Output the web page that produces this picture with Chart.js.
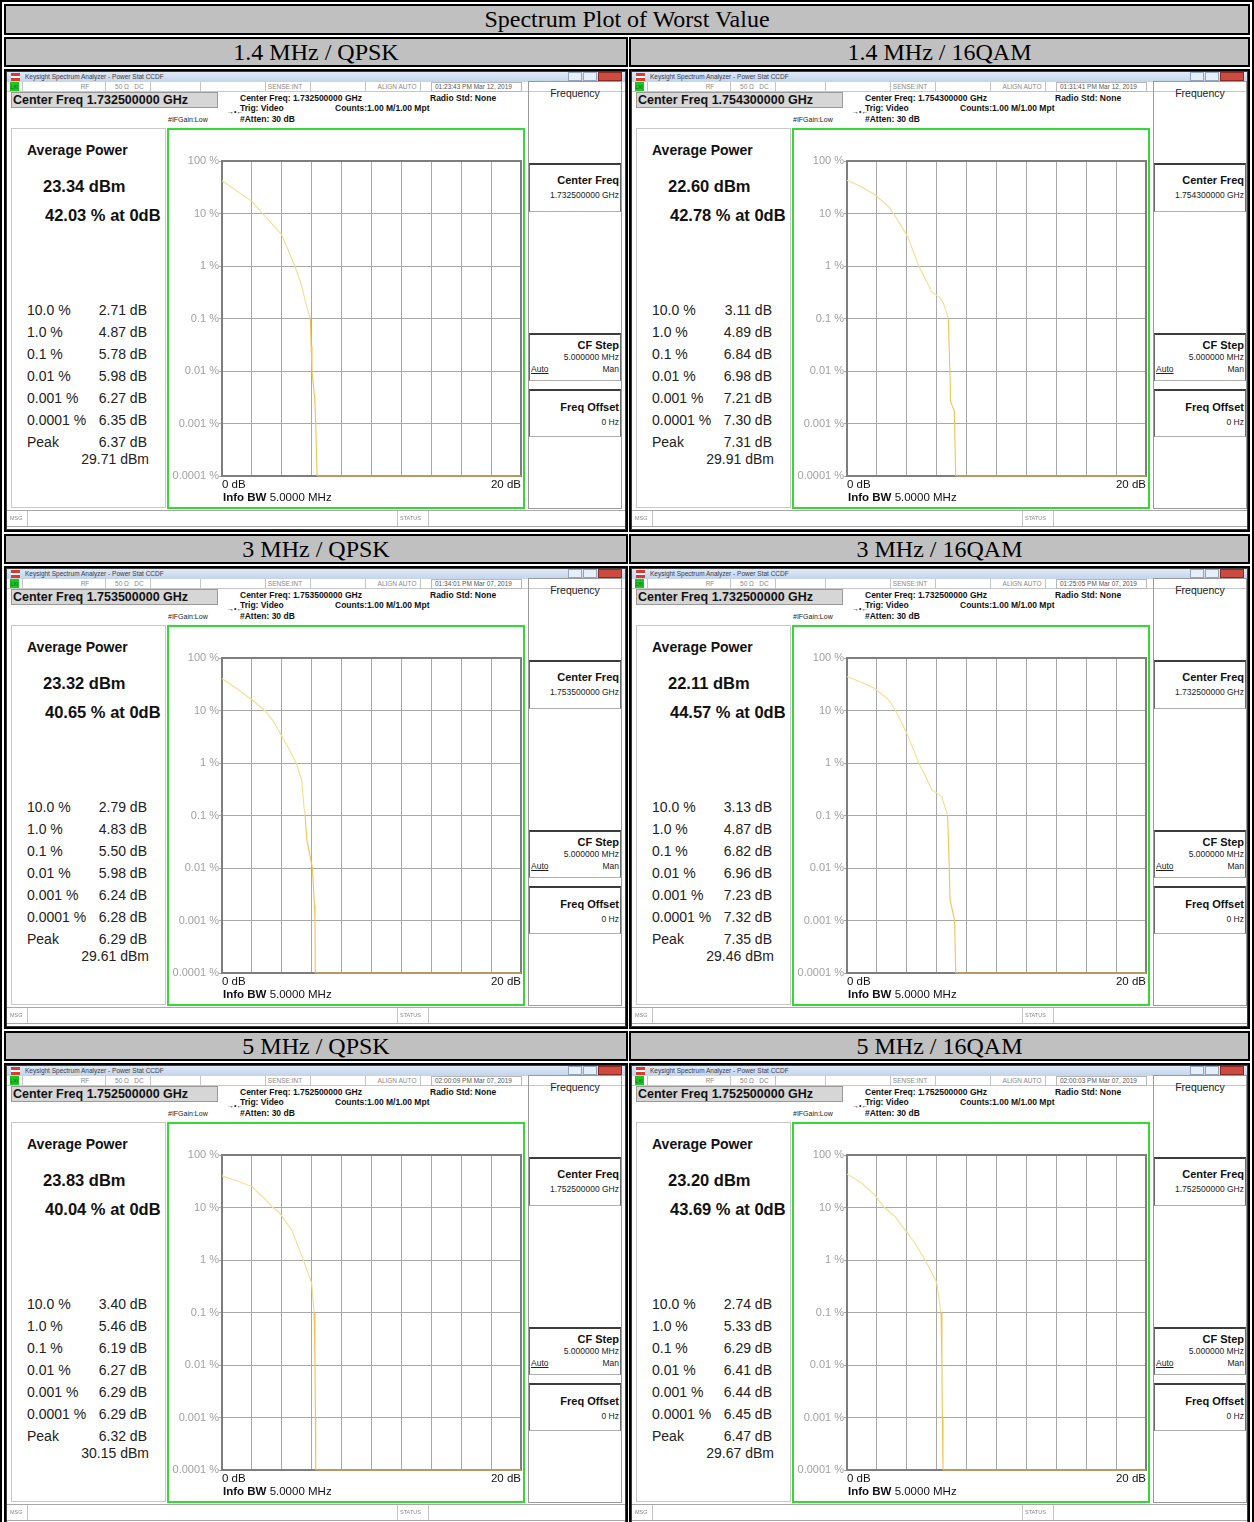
<!DOCTYPE html>
<html>
<head>
<meta charset="utf-8">
<script src="https://cdn.jsdelivr.net/npm/chart.js@4.4.1/dist/chart.umd.min.js"></script>
<style>
  body { margin: 0; width: 1254px; height: 1522px; overflow: hidden; background: #fff; font-family: 'Liberation Sans', Arial, sans-serif; }
  #page { position: relative; width: 1254px; height: 1522px; overflow: hidden; }
  b { font-weight: bold; }
</style>
</head>
<body>
<div id="page"></div>
<script>
// Table / panel texts
const pageTitle = 'Spectrum Plot of Worst Value';
const panelTitles = ['1.4 MHz / QPSK', '1.4 MHz / 16QAM', '3 MHz / QPSK', '3 MHz / 16QAM', '5 MHz / QPSK', '5 MHz / 16QAM'];
const centerFreqs = ['1.732500000', '1.754300000', '1.753500000', '1.732500000', '1.752500000', '1.752500000'];
const timeStamps = ['01:23:43 PM Mar 12, 2019', '01:31:41 PM Mar 12, 2019', '01:34:01 PM Mar 07, 2019',
                    '01:25:05 PM Mar 07, 2019', '02:00:09 PM Mar 07, 2019', '02:00:03 PM Mar 07, 2019'];
const avgPowerDbm = ['23.34', '22.60', '23.32', '22.11', '23.83', '23.20'];
const pctAt0dB = ['42.03', '42.78', '40.65', '44.57', '40.04', '43.69'];
const ccdfLevels = ['10.0 %', '1.0 %', '0.1 %', '0.01 %', '0.001 %', '0.0001 %', 'Peak'];
const ccdfDb = [
    ['2.71', '4.87', '5.78', '5.98', '6.27', '6.35', '6.37'],
    ['3.11', '4.89', '6.84', '6.98', '7.21', '7.30', '7.31'],
    ['2.79', '4.83', '5.50', '5.98', '6.24', '6.28', '6.29'],
    ['3.13', '4.87', '6.82', '6.96', '7.23', '7.32', '7.35'],
    ['3.40', '5.46', '6.19', '6.27', '6.29', '6.29', '6.32'],
    ['2.74', '5.33', '6.29', '6.41', '6.44', '6.45', '6.47']
];
const peakDbm = ['29.71', '29.91', '29.61', '29.46', '30.15', '29.67'];

// Axes
const yTickValues = [0.0001, 0.001, 0.01, 0.1, 1, 10, 100];
const yTickLabels = ['0.0001 %', '0.001 %', '0.01 %', '0.1 %', '1 %', '10 %', '100 %'];
const xMinDb = 0, xMaxDb = 20, xStepDb = 2;

// CCDF traces: [dB, %]
const curve14Qpsk = [[0, 42.03], [1, 27], [2, 17], [2.71, 10], [3.42, 6], [4, 3.9], [4.87, 1], [5.3, 0.45], [5.64, 0.18],
                     [5.91, 0.1], [5.96, 0.03], [6.02, 0.01], [6.2, 0.003], [6.27, 0.001], [6.36, 0.0001], [20, 0.0001]];
const curve14Qam = [[0, 42.78], [1, 32], [1.89, 22.5], [2.78, 13.5], [3.11, 10], [3.6, 6], [4.1, 3.4], [4.8, 1], [5.2, 0.6],
                    [5.67, 0.32], [6.2, 0.25], [6.44, 0.2], [6.78, 0.1], [6.88, 0.01], [6.93, 0.0026], [7.18, 0.0017],
                    [7.27, 0.0001], [20, 0.0001]];
const curve3Qpsk = [[0, 40.65], [1, 26], [2, 16], [2.85, 10], [3.4, 6.5], [3.89, 3.7], [4.5, 1.8], [4.95, 1], [5.33, 0.48],
                    [5.48, 0.15], [5.56, 0.1], [5.67, 0.035], [6.05, 0.01], [6.18, 0.002], [6.22, 0.001], [6.24, 0.0001],
                    [20, 0.0001]];
const curve3Qam = [[0, 44.57], [1, 34], [1.89, 26], [2.78, 16], [3.25, 10], [4, 3.7], [4.8, 1], [5.2, 0.6], [5.67, 0.31],
                   [6.33, 0.23], [6.73, 0.1], [6.84, 0.01], [6.89, 0.0025], [7.2, 0.001], [7.27, 0.0001], [20, 0.0001]];
const curve5Qpsk = [[0, 40.04], [1, 32], [2, 25], [3, 13.5], [3.4, 10], [3.78, 8.4], [4.67, 3.7], [5.44, 1], [6.0, 0.36],
                    [6.16, 0.1], [6.22, 0.01], [6.25, 0.001], [6.27, 0.0001], [20, 0.0001]];
const curve5Qam = [[0, 43.69], [1, 29], [1.89, 16.8], [2.5, 10], [3.22, 6.7], [3.89, 3.7], [4.6, 2], [5.22, 1], [5.67, 0.58],
                   [6.0, 0.37], [6.29, 0.1], [6.35, 0.01], [6.38, 0.001], [6.42, 0.0001], [20, 0.0001]];
const curves = [curve14Qpsk, curve14Qam, curve3Qpsk, curve3Qam, curve5Qpsk, curve5Qam];

Chart.defaults.font.family = "'Liberation Sans', Arial, sans-serif";

const page = document.getElementById('page');

// little helpers for absolutely placed boxes and text
function px(css) {
    const out = {};
    for (const k in css) {
        out[k] = (typeof css[k] === 'number' && k !== 'fontWeight' && k !== 'zIndex') ? css[k] + 'px' : css[k];
    }
    return out;
}
function box(parent, css, text) {
    const d = document.createElement('div');
    d.style.position = 'absolute';
    d.style.boxSizing = 'border-box';
    Object.assign(d.style, px(css));
    if (text !== undefined) d.textContent = text;
    parent.appendChild(d);
    return d;
}
function label(parent, text, x, cy, size, opts = {}) {
    const d = box(parent, {
        left: x, top: cy - 10, lineHeight: 20, fontSize: size, whiteSpace: 'nowrap',
        color: opts.color || '#111', fontWeight: opts.bold ? 'bold' : 'normal'
    }, text);
    if (opts.right) d.style.transform = 'translateX(-100%)';
    if (opts.center) d.style.transform = 'translateX(-50%)';
    if (opts.underline) d.style.textDecoration = 'underline';
    return d;
}

// draw darker frame around the plot area
const plotFrame = {
    id: 'plotFrame',
    beforeDatasetsDraw(chart) {
        const { ctx, chartArea: a } = chart;
        ctx.save();
        ctx.strokeStyle = '#7e7e7e';
        ctx.lineWidth = 2;
        ctx.strokeRect(a.left, a.top, a.right - a.left, a.bottom - a.top);
        ctx.restore();
    }
};

// trace colour: pale yellow at the top, deeper yellow-orange on the drop and the floor
function traceColour(c) {
    const y = c.p1.parsed.y;
    if (c.p0.parsed.y <= yTickValues[0] && y <= yTickValues[0]) return '#f3b24a';
    return y < 0.1 ? '#f1c453' : '#f3de8e';
}

function makeChart(canvas, curve) {
    new Chart(canvas.getContext('2d'), {
        type: 'line',
        data: {
            datasets: [{
                data: curve.map(p => ({ x: p[0], y: p[1] })),
                borderColor: '#f3de8e',
                borderWidth: 1.1,
                pointRadius: 0,
                tension: 0,
                fill: false,
                clip: 3,
                segment: { borderColor: traceColour }
            }]
        },
        options: {
            responsive: false,
            animation: false,
            devicePixelRatio: 1,
            layout: { padding: { left: 0, top: 31, right: 1, bottom: 0 } },
            plugins: { legend: { display: false }, tooltip: { enabled: false } },
            scales: {
                x: {
                    type: 'linear',
                    min: xMinDb,
                    max: xMaxDb,
                    afterFit: s => { s.height = 31; },
                    grid: { color: '#a8a8a8', lineWidth: 1, drawTicks: false },
                    border: { color: '#7e7e7e', width: 2 },
                    ticks: {
                        stepSize: xStepDb,
                        autoSkip: false,
                        maxRotation: 0,
                        align: 'inner',
                        padding: 2,
                        color: '#111',
                        font: { size: 11.5 },
                        callback: v => v === xMinDb ? xMinDb + ' dB' : (v === xMaxDb ? xMaxDb + ' dB' : '')
                    }
                },
                y: {
                    type: 'logarithmic',
                    min: yTickValues[0],
                    max: yTickValues[yTickValues.length - 1],
                    afterBuildTicks: ax => { ax.ticks = yTickValues.map(v => ({ value: v })); },
                    afterFit: s => { s.width = 53; },
                    grid: { color: '#a8a8a8', lineWidth: 1, drawTicks: true, tickLength: 3 },
                    border: { color: '#7e7e7e', width: 2 },
                    ticks: {
                        padding: 0,
                        color: '#a2a2a2',
                        font: { size: 11 },
                        callback: (v, i) => yTickLabels[i]
                    }
                }
            }
        },
        plugins: [plotFrame]
    });
}

function buildPanel(i) {
    const col = i % 2, row = Math.floor(i / 2);
    const cx = col ? 629 : 4, cw = col ? 621 : 624, hy = 37 + row * 497;
    const freq = centerFreqs[i];

    // header cell
    box(page, {
        left: cx, top: hy, width: cw, height: 30, border: '2px solid #000', background: '#c0c0c0',
        fontFamily: "'Liberation Serif', 'Times New Roman', serif", fontSize: 24, lineHeight: 26, textAlign: 'center', color: '#000'
    }, panelTitles[i]);

    // screenshot cell
    const s = box(page, { left: cx, top: hy + 32, width: cw, height: 463, border: '2px solid #000', background: '#fff', overflow: 'hidden' });
    const W = cw - 4;
    box(s, { left: 0, top: 0, width: W, height: 459, border: '1px solid #3a3a3a' });

    // window title bar
    box(s, { left: 1, top: 1, width: W - 2, height: 10, background: 'linear-gradient(#dfe9f6, #c3d4ea)' });
    box(s, { left: 5, top: 2, width: 9, height: 8, background: 'linear-gradient(#d93a32 0 40%, #ffffff 40% 60%, #d93a32 60%)' });
    label(s, 'Keysight Spectrum Analyzer - Power Stat CCDF', 19, 6, 6.5, { color: '#3a3a48' });
    box(s, { left: W - 58, top: 1, width: 14, height: 9, border: '1px solid #93a6bf', background: '#e6eef8' });
    box(s, { left: W - 43, top: 1, width: 14, height: 9, border: '1px solid #93a6bf', background: '#e6eef8' });
    box(s, { left: W - 28, top: 1, width: 24, height: 9, border: '1px solid #8a2a22', background: '#cc4a3f' });

    // instrument status line
    box(s, { left: 1, top: 11, width: W - 2, height: 10, borderBottom: '1px solid #c8c8c8' });
    box(s, { left: 4, top: 11, width: 9, height: 9, background: '#1fc41f' });
    label(s, 'LXI', 4.5, 15.5, 5, { color: '#063' });
    [16, 99, 144, 194, 259, 304, 359, 414].forEach(x => box(s, { left: x, top: 11, width: 1, height: 10, background: '#c4c4c4' }));
    box(s, { left: 425, top: 11, width: 91, height: 10, border: '1px solid #b8b8b8' });
    label(s, 'RF', 79, 16, 6.5, { color: '#8a8a8a', center: true });
    label(s, '50 Ω', 116, 16, 6.5, { color: '#8a8a8a', center: true });
    label(s, 'DC', 133, 16, 6.5, { color: '#8a8a8a', center: true });
    label(s, 'SENSE:INT', 279, 16, 6.5, { color: '#8a8a8a', center: true });
    label(s, 'ALIGN AUTO', 391, 16, 6.5, { color: '#8a8a8a', center: true });
    label(s, timeStamps[i], 429, 16, 6.5, { color: '#555' });

    // active function box + measurement setup
    box(s, { left: 5, top: 21, width: 207, height: 16, background: '#d6d6d6', border: '1px solid #9a9a9a' });
    label(s, 'Center Freq ' + freq + ' GHz', 7, 29, 12.5, { bold: true });
    label(s, 'Center Freq: ' + freq + ' GHz', 234, 27, 8.5, { bold: true });
    label(s, 'Radio Std: None', 424, 27, 8.5, { bold: true });
    label(s, 'Trig: Video', 234, 37, 8.5, { bold: true });
    label(s, 'Counts:1.00 M/1.00 Mpt', 329, 37, 8.5, { bold: true });
    label(s, '#Atten: 30 dB', 234, 48, 8.5, { bold: true });
    label(s, '#IFGain:Low', 162, 49, 7, { color: '#222' });
    label(s, '→•←', 221, 41, 7, { color: '#222' });

    // left result panel
    box(s, { left: 5, top: 57, width: 155, height: 380, border: '1px solid #c8c8c8' });
    label(s, 'Average Power', 21, 79, 14, { bold: true });
    label(s, avgPowerDbm[i] + ' dBm', 37, 115, 16.5, { bold: true });
    label(s, pctAt0dB[i] + ' % at 0dB', 39, 144, 16.5, { bold: true });
    ccdfLevels.forEach((lv, k) => {
        label(s, lv, 21, 239 + 22 * k, 14, { color: '#222' });
        label(s, ccdfDb[i][k] + ' dB', 141, 239 + 22 * k, 14, { color: '#222', right: true });
    });
    label(s, peakDbm[i] + ' dBm', 143, 388, 14, { color: '#222', right: true });

    // green graph window + chart
    box(s, { left: 161, top: 57, width: 358, height: 381, border: '2px solid #36d836' });
    const c = document.createElement('canvas');
    c.width = 354; c.height = 377;
    Object.assign(c.style, { position: 'absolute', left: '163px', top: '59px', width: '354px', height: '377px' });
    s.appendChild(c);
    makeChart(c, curves[i]);
    const bw = label(s, '', 217, 426, 11.5, { color: '#111' });
    bw.innerHTML = '<b>Info BW</b> 5.0000 MHz';

    // softkey menu
    box(s, { left: 522, top: 10, width: 94, height: 428, border: '1px solid #9a9a9a' });
    label(s, 'Frequency', 569, 22, 10.5, { color: '#222', center: true });
    [[92, 141], [262, 310], [318, 366]].forEach(k => box(s, {
        left: 523, top: k[0], width: 92, height: k[1] - k[0],
        borderTop: '2px solid #3c3c3c', borderLeft: '1px solid #6a6a6a', borderRight: '1px solid #6a6a6a', borderBottom: '1px solid #b0b0b0'
    }));
    label(s, 'Center Freq', 613, 109, 11, { bold: true, right: true });
    label(s, freq + ' GHz', 613, 124, 8.5, { color: '#222', right: true });
    label(s, 'CF Step', 613, 274, 11, { bold: true, right: true });
    label(s, '5.000000 MHz', 613, 286, 8.5, { color: '#222', right: true });
    label(s, 'Auto', 525, 298, 8.5, { color: '#222', underline: true });
    label(s, 'Man', 613, 298, 8.5, { color: '#222', right: true });
    label(s, 'Freq Offset', 613, 336, 11, { bold: true, right: true });
    label(s, '0 Hz', 613, 351, 8.5, { color: '#222', right: true });

    // message / status bar
    box(s, { left: 1, top: 439, width: W - 2, height: 17, borderTop: '1px solid #a8a8a8', borderBottom: '1px solid #a8a8a8' });
    [21, 391, 422].forEach(x => box(s, { left: x, top: 440, width: 1, height: 15, background: '#c4c4c4' }));
    label(s, 'MSG', 4, 447, 5.5, { color: '#888' });
    label(s, 'STATUS', 394, 447, 5.5, { color: '#888' });
}

// outer table frame and title
box(page, { left: 0, top: 0, width: 1254, height: 1540, border: '2px solid #000' });
box(page, {
    left: 4, top: 4, width: 1246, height: 31, border: '2px solid #000', background: '#c0c0c0',
    fontFamily: "'Liberation Serif', 'Times New Roman', serif", fontSize: 24, lineHeight: 27, textAlign: 'center', color: '#000'
}, pageTitle);

panelTitles.forEach((t, i) => buildPanel(i));
</script>
</body>
</html>
